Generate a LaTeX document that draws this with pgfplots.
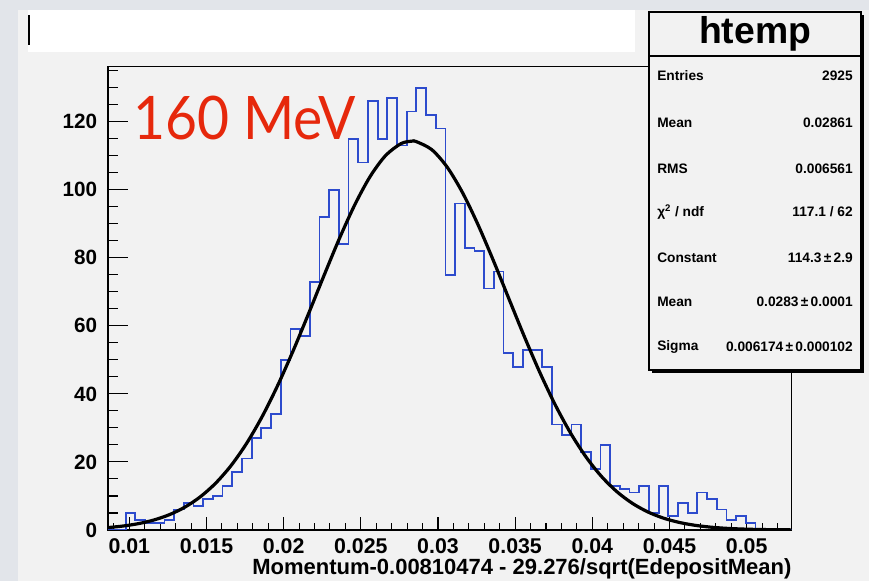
\documentclass[border=0pt]{standalone}
\usepackage{pgfplots}
\pgfplotsset{compat=1.18}
\usepackage{fontspec}
\setmainfont{Liberation Sans}
\newfontfamily\latofont{Lato}
\definecolor{canvas}{RGB}{242,242,242}
\definecolor{outerbg}{RGB}{226,229,234}
\definecolor{histblue}{RGB}{45,75,205}
\definecolor{labred}{RGB}{230,40,12}

\begin{document}
\begin{tikzpicture}
\begin{scope}[x=0.75pt,y=0.75pt]
\fill[outerbg] (0,0) rectangle (869,581);
\fill[canvas] (18,0) rectangle (869,571);
\fill[white] (28,529) rectangle (635,571);
\draw[black, line width=1pt] (29,536) -- (29,566);
\end{scope}

\begin{axis}[
  at={(81pt,38.25pt)}, anchor=south west,
  scale only axis, width=512.8pt, height=347.5pt,
  xmin=0.00862, xmax=0.05292, ymin=0, ymax=136.2,
  scaled x ticks=false, scaled y ticks=false,
  axis background/.style={fill=canvas},
  axis line style={line width=0.9pt, black},
  tick align=inside, xtick pos=left, ytick pos=left,
  every tick/.style={black, line width=0.8pt},
  xtick style={/pgfplots/major tick length=9.5pt, /pgfplots/minor tick length=5pt},
  ytick style={/pgfplots/major tick length=15pt, /pgfplots/minor tick length=7.5pt},
  xtick={0.01,0.015,0.02,0.025,0.03,0.035,0.04,0.045,0.05},
  xticklabels={0.01,0.015,0.02,0.025,0.03,0.035,0.04,0.045,0.05},
  minor xtick={0.009,0.011,0.012,0.013,0.014,0.016,0.017,0.018,0.019,0.021,0.022,0.023,0.024,0.026,0.027,0.028,0.029,0.031,0.032,0.033,0.034,0.036,0.037,0.038,0.039,0.041,0.042,0.043,0.044,0.046,0.047,0.048,0.049,0.051,0.052},
  ytick={0,20,40,60,80,100,120},
  yticklabels={0,20,40,60,80,100,120},
  minor ytick={5,10,15,25,30,35,45,50,55,65,70,75,85,90,95,105,110,115,125,130,135},
  xticklabel style={font=\bfseries\fontsize{16}{16}\selectfont, anchor=north, inner sep=0pt, yshift=-6pt},
  yticklabel style={font=\bfseries\fontsize{15.5}{15.5}\selectfont, anchor=east, inner sep=0pt, xshift=-8pt},
  xlabel={Momentum-0.00810474 - 29.276/sqrt(EdepositMean)},
  xlabel style={font=\bfseries\fontsize{16.5}{16.5}\selectfont, at={(axis description cs:1,0)}, anchor=north east, inner sep=0pt, yshift=-21pt},
]
\addplot[const plot, draw=histblue, line width=1.35pt, line join=miter] coordinates {
(0.00862,0) (0.009767,5) (0.010395,3) (0.011023,2) (0.011650,2) (0.012278,3)
(0.012906,6) (0.013534,8) (0.014162,7) (0.014789,9) (0.015417,10)
(0.016045,13) (0.016673,17) (0.017301,21) (0.017928,27) (0.018556,30)
(0.019184,34) (0.019812,50) (0.020440,59) (0.021067,57) (0.021695,73)
(0.022323,92) (0.022951,100) (0.023579,84) (0.024206,115) (0.024834,108)
(0.025462,126) (0.026090,115) (0.026718,127) (0.027345,113) (0.027973,123)
(0.028601,130) (0.029229,122) (0.029857,118) (0.030484,75) (0.031112,96)
(0.031740,83) (0.032368,82) (0.032996,71) (0.033623,76) (0.034251,52)
(0.034879,48) (0.035507,53) (0.036135,53) (0.036762,48) (0.037390,31)
(0.038018,28) (0.038646,31) (0.039274,23) (0.039901,18) (0.040529,25)
(0.041157,13) (0.041785,12) (0.042413,11) (0.043040,13) (0.043668,5)
(0.044296,13) (0.044924,4) (0.045552,8) (0.046179,5) (0.046807,11)
(0.047435,9) (0.048063,6) (0.048691,3) (0.049318,4) (0.049946,2)
(0.050574,0) (0.05292,0)
};
\addplot[black, line width=2.4pt, smooth] coordinates {
(0.0086,0.704) (0.0096,1.165) (0.0106,1.877) (0.0116,2.947) (0.0126,4.507)
(0.0136,6.716) (0.0146,9.748) (0.0156,13.781) (0.0166,18.977) (0.0176,25.457)
(0.0186,33.268) (0.0196,42.354) (0.0206,52.514) (0.0216,63.437) (0.0226,74.638)
(0.0236,85.544) (0.0246,95.510) (0.0256,103.878) (0.0266,110.049) (0.0276,113.567)
(0.0283,114.3) (0.0286,114.165) (0.0296,111.794) (0.0306,106.637) (0.0316,99.086)
(0.0326,89.682) (0.0336,79.075) (0.0346,67.916) (0.0356,56.819) (0.0366,46.303)
(0.0376,36.758) (0.0386,28.424) (0.0396,21.412) (0.0406,15.708) (0.0416,11.229)
(0.0426,7.820) (0.0436,5.304) (0.0446,3.504) (0.0456,2.255) (0.0466,1.414)
(0.0476,0.864) (0.0486,0.514) (0.0496,0.298) (0.0506,0.168) (0.0516,0.092)
(0.0526,0.049) (0.0529,0.040)
};
\end{axis}

\begin{scope}[x=0.75pt,y=0.75pt]
\node[anchor=base west, inner sep=0pt, text=labred, font=\latofont\fontsize{45}{45}\selectfont] at (133,441) {\scalebox{0.92}[1]{160 MeV}};
% stats box
\fill[black] (652,208) rectangle (864,566);
\filldraw[fill=canvas, draw=black, line width=0.9pt] (649,211) rectangle (861,569);
\draw[black, line width=0.9pt] (649,525) -- (861,525);
\node[font=\bfseries\fontsize{28}{28}\selectfont] at (755,547) {htemp};
\begin{scope}[every node/.style={font=\bfseries\fontsize{10.3}{10.3}\selectfont, inner sep=0pt}]
\node[anchor=west] at (657,505) {Entries};
\node[anchor=east] at (853,505) {2925};
\node[anchor=west] at (657,458) {Mean};
\node[anchor=east] at (853,458) {0.02861};
\node[anchor=west] at (657,412) {RMS};
\node[anchor=east] at (853,412) {0.006561};
\node[anchor=west] at (657,369) {χ\textsuperscript{2} / ndf};
\node[anchor=east] at (853,369) {117.1 / 62};
\node[anchor=west] at (657,323) {Constant};
\node[anchor=east] at (853,323) {114.3\,±\,2.9};
\node[anchor=west] at (657,279) {Mean};
\node[anchor=east] at (853,279) {0.0283\,±\,0.0001};
\node[anchor=west] at (657,234) {Sigma};
\node[anchor=east] at (853,234) {0.006174\,±\,0.000102};
\end{scope}
\pgfresetboundingbox
\useasboundingbox (0,0) rectangle (869,581);
\end{scope}
\end{tikzpicture}
\end{document}
